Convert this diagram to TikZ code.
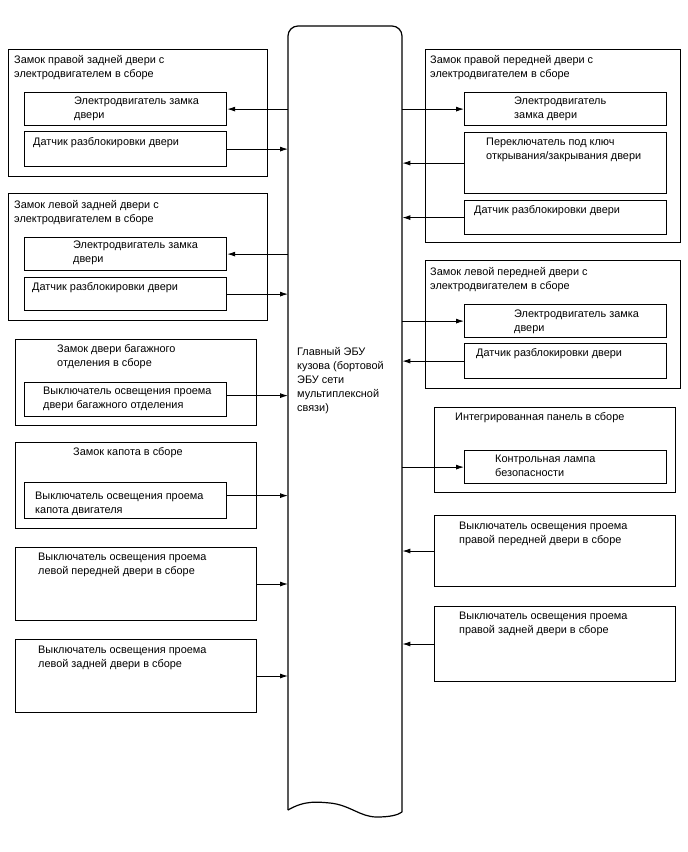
\documentclass[tikz,border=0pt]{standalone}
\usepackage{fontspec}
\setmainfont{Liberation Sans}
\usetikzlibrary{arrows.meta}
\tikzset{
  outbox/.style={draw, line width=1pt, inner sep=0pt, anchor=north west},
  inbox/.style={draw, line width=1.2pt, inner sep=0pt, anchor=north west},
  txt/.style={inner sep=0pt, anchor=north west, align=left, font=\fontsize{10.9}{14}\selectfont},
  arr/.style={-{Latex[length=8pt,width=5pt]}, line width=0.9pt},
}
\begin{document}
\begin{tikzpicture}[x=1pt,y=-1pt]
\useasboundingbox (0,0) rectangle (688,852);
% ECU
\node[draw=none, inner sep=0pt, anchor=north west, minimum width=114pt, minimum height=786pt] (ecu) at (288,26) {};
\draw[line width=1.2pt, rounded corners=10pt] (288,810) -- (288,26) -- (402,26) -- (402,812);
\draw[line width=1.2pt] (288,810) .. controls (305,800) and (318,802) .. (330,803)
   .. controls (350,805) and (360,817) .. (377,817) .. controls (390,817) and (398,815) .. (402,812);
\node[txt] (ecut) at (297,347) {Главный ЭБУ\\кузова (бортовой\\ЭБУ сети\\мультиплексной\\связи)};

% Left 1
\node[outbox, minimum width=259pt, minimum height=127pt] (b1) at (8,49) {};
\node[txt] (b1t) at (14,55) {Замок правой задней двери с\\электродвигателем в сборе};
\node[inbox, minimum width=202pt, minimum height=33pt] (b1a) at (24,92) {};
\node[txt] (b1at) at (74,97) {Электродвигатель замка\\двери};
\node[inbox, minimum width=202pt, minimum height=35pt] (b1b) at (24,131) {};
\node[txt] (b1bt) at (33,137) {Датчик разблокировки двери};
\draw[arr] (b1a.east -| ecu.west) -- (b1a.east);
\draw[arr] (b1b.east) -- (b1b.east -| ecu.west);

% Left 2
\node[outbox, minimum width=259pt, minimum height=127pt] (b2) at (8,193) {};
\node[txt] (b2t) at (14,200) {Замок левой задней двери с\\электродвигателем в сборе};
\node[inbox, minimum width=202pt, minimum height=33pt] (b2a) at (24,237) {};
\node[txt] (b2at) at (73,241) {Электродвигатель замка\\двери};
\node[inbox, minimum width=202pt, minimum height=33pt] (b2b) at (24,277) {};
\node[txt] (b2bt) at (32,282) {Датчик разблокировки двери};
\draw[arr] (b2a.east -| ecu.west) -- (b2a.east);
\draw[arr] (b2b.east) -- (b2b.east -| ecu.west);

% Left 3
\node[outbox, minimum width=241pt, minimum height=86pt] (b3) at (15,339) {};
\node[txt] (b3t) at (57,344) {Замок двери багажного\\отделения в сборе};
\node[inbox, minimum width=202pt, minimum height=34pt] (b3a) at (24,382) {};
\node[txt] (b3at) at (43,387) {Выключатель освещения проема\\двери багажного отделения};
\draw[arr] ([yshift=4pt]b3a.east) -- ([yshift=4pt]b3a.east -| ecu.west);

% Left 4
\node[outbox, minimum width=241pt, minimum height=86pt] (b4) at (15,442) {};
\node[txt] (b4t) at (73,447) {Замок капота в сборе};
\node[inbox, minimum width=202pt, minimum height=36pt] (b4a) at (24,482) {};
\node[txt] (b4at) at (35,492) {Выключатель освещения проема\\капота двигателя};
\draw[arr] ([yshift=5pt]b4a.east) -- ([yshift=5pt]b4a.east -| ecu.west);

% Left 5
\node[outbox, minimum width=241pt, minimum height=73pt] (b5) at (15,547) {};
\node[txt] (b5t) at (38,553) {Выключатель освещения проема\\левой передней двери в сборе};
\draw[arr] (b5.east) -- (b5.east -| ecu.west);

% Left 6
\node[outbox, minimum width=241pt, minimum height=73pt] (b6) at (15,639) {};
\node[txt] (b6t) at (38,646) {Выключатель освещения проема\\левой задней двери в сборе};
\draw[arr] (b6.east) -- (b6.east -| ecu.west);

% Right 1
\node[outbox, minimum width=255pt, minimum height=193pt] (r1) at (425,49) {};
\node[txt] (r1t) at (430,55) {Замок правой передней двери с\\электродвигателем в сборе};
\node[inbox, minimum width=202pt, minimum height=33pt] (r1a) at (464,92) {};
\node[txt] (r1at) at (514,97) {Электродвигатель\\замка двери};
\node[inbox, minimum width=202pt, minimum height=61pt] (r1b) at (464,132) {};
\node[txt] (r1bt) at (486,138) {Переключатель под ключ\\открывания/закрывания двери};
\node[inbox, minimum width=202pt, minimum height=34pt] (r1c) at (464,200) {};
\node[txt] (r1ct) at (474,205) {Датчик разблокировки двери};
\draw[arr] (ecu.east |- r1a.west) -- (r1a.west);
\draw[arr] (r1b.west) -- (ecu.east |- r1b.west);
\draw[arr] (r1c.west) -- (ecu.east |- r1c.west);

% Right 2
\node[outbox, minimum width=255pt, minimum height=128pt] (r2) at (425,260) {};
\node[txt] (r2t) at (430,267) {Замок левой передней двери с\\электродвигателем в сборе};
\node[inbox, minimum width=202pt, minimum height=33pt] (r2a) at (464,304) {};
\node[txt] (r2at) at (514,310) {Электродвигатель замка\\двери};
\node[inbox, minimum width=202pt, minimum height=35pt] (r2b) at (464,343) {};
\node[txt] (r2bt) at (476,348) {Датчик разблокировки двери};
\draw[arr] (ecu.east |- r2a.west) -- (r2a.west);
\draw[arr] (r2b.west) -- (ecu.east |- r2b.west);

% Right 3
\node[outbox, minimum width=241pt, minimum height=85pt] (r3) at (434,407) {};
\node[txt] (r3t) at (455,412) {Интегрированная панель в сборе};
\node[inbox, minimum width=202pt, minimum height=33pt] (r3a) at (464,450) {};
\node[txt] (r3at) at (495,455) {Контрольная лампа\\безопасности};
\draw[arr] (ecu.east |- r3a.west) -- (r3a.west);

% Right 4
\node[outbox, minimum width=241pt, minimum height=71pt] (r4) at (434,515) {};
\node[txt] (r4t) at (459,522) {Выключатель освещения проема\\правой передней двери в сборе};
\draw[arr] (r4.west) -- (ecu.east |- r4.west);

% Right 5
\node[outbox, minimum width=241pt, minimum height=75pt] (r5) at (434,606) {};
\node[txt] (r5t) at (459,612) {Выключатель освещения проема\\правой задней двери в сборе};
\draw[arr] (r5.west) -- (ecu.east |- r5.west);
\end{tikzpicture}
\end{document}
